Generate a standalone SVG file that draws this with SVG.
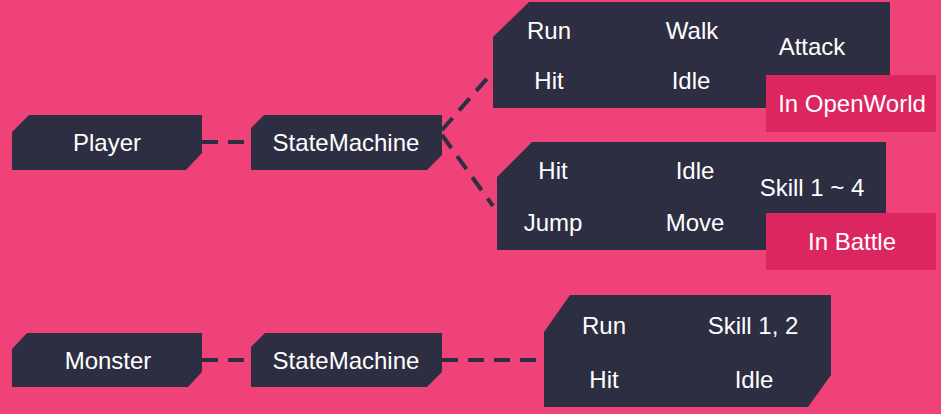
<svg xmlns="http://www.w3.org/2000/svg" width="941" height="414" viewBox="0 0 941 414">
<style>
.bg{fill:#ee4278}
.box{fill:#2e2e42}
.tag{fill:#dc2660}
.t{font-family:"Liberation Sans",Arial,sans-serif;font-size:24px;fill:#ffffff;text-anchor:middle;dominant-baseline:central}
.c{stroke:#2e2e42;stroke-width:4;fill:none;stroke-dasharray:16 10}
</style>
<rect class="bg" width="941" height="414"/>
<g id="connectors">
<line class="c" x1="202" y1="142" x2="251" y2="142"/>
<line class="c" x1="442" y1="130" x2="491" y2="74"/>
<line class="c" x1="442" y1="135" x2="493" y2="206"/>
<line class="c" x1="202" y1="360" x2="251" y2="360"/>
<line class="c" x1="442" y1="360" x2="544" y2="360"/>
</g>
<g id="player">
<polygon class="box" points="29,115 202,115 202,153 186,170 12,170 12,132"/>
<text class="t" x="107" y="142">Player</text>
</g>
<g id="sm1">
<polygon class="box" points="264,115 442,115 442,155 427,170 251,170 251,128"/>
<text class="t" x="346" y="142">StateMachine</text>
</g>
<g id="openworld">
<polygon class="box" points="529,2 890,2 890,108 493,108 493,37"/>
<text class="t" x="549" y="30">Run</text>
<text class="t" x="692" y="30">Walk</text>
<text class="t" x="812" y="46">Attack</text>
<text class="t" x="549" y="80">Hit</text>
<text class="t" x="691" y="80">Idle</text>
<rect class="tag" x="766" y="75" width="170" height="57"/>
<text class="t" x="852" y="103">In OpenWorld</text>
</g>
<g id="battle">
<polygon class="box" points="532,142 886,142 886,250 497,250 497,177"/>
<text class="t" x="553" y="170">Hit</text>
<text class="t" x="695" y="170">Idle</text>
<text class="t" x="812" y="187">Skill 1 ~ 4</text>
<text class="t" x="553" y="222">Jump</text>
<text class="t" x="695" y="222">Move</text>
<rect class="tag" x="766" y="213" width="170" height="57"/>
<text class="t" x="852" y="241">In Battle</text>
</g>
<g id="monster">
<polygon class="box" points="27,333 202,333 202,372 188,387 12,387 12,349"/>
<text class="t" x="108" y="360">Monster</text>
</g>
<g id="sm2">
<polygon class="box" points="265,333 442,333 442,372 427,387 251,387 251,347"/>
<text class="t" x="346" y="360">StateMachine</text>
</g>
<g id="monsterstates">
<polygon class="box" points="570,295 831,295 831,375 808,407 544,407 544,332"/>
<text class="t" x="604" y="325">Run</text>
<text class="t" x="753" y="325">Skill 1, 2</text>
<text class="t" x="604" y="379">Hit</text>
<text class="t" x="754" y="379">Idle</text>
</g>
</svg>
